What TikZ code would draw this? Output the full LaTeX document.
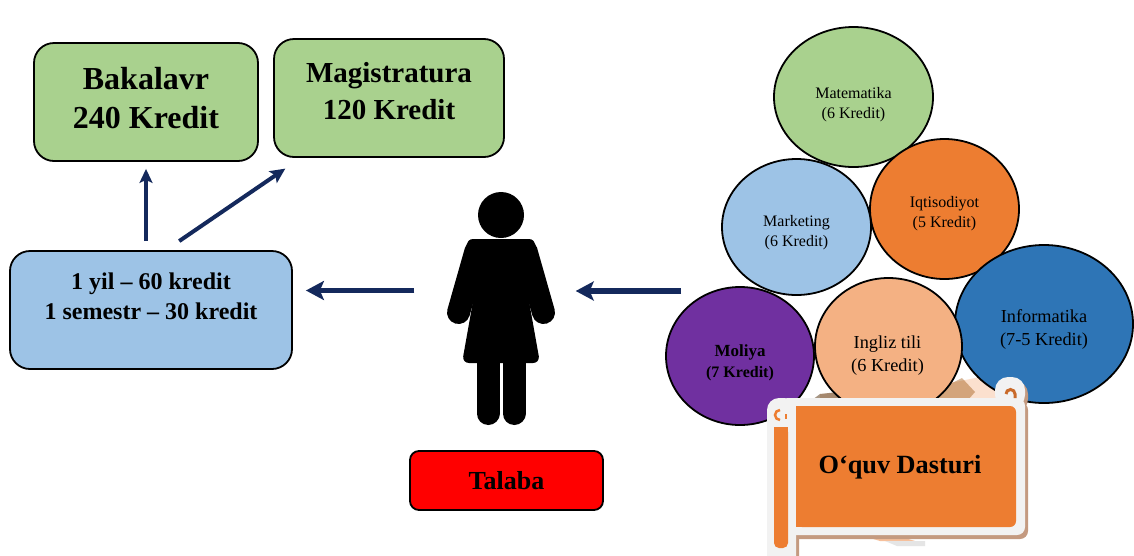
\documentclass[tikz,border=0pt]{standalone}
\usepackage{fontspec}
\setmainfont{Liberation Serif}
\usetikzlibrary{arrows.meta, shapes.geometric}
\definecolor{degreegreen}{HTML}{A9D18E}
\definecolor{termblue}{HTML}{9DC3E6}
\definecolor{flownavy}{HTML}{14295C}
\definecolor{econorange}{HTML}{ED7D31}
\definecolor{itblue}{HTML}{2E75B6}
\definecolor{finpurple}{HTML}{7030A0}
\definecolor{engpeach}{HTML}{F4B183}
\definecolor{scrollframe}{HTML}{F2F2F2}
\definecolor{scrollshadow}{HTML}{C49A80}
\newcommand{\fsize}[2]{\fontsize{#1}{#2}\selectfont}
\tikzset{
  box/.style={draw=black, line width=1.8pt, rounded corners=#1, inner sep=0pt},
  subject/.style={ellipse, draw=black, line width=1.8pt, inner sep=0pt},
  boldtext/.style 2 args={align=center, inner sep=0pt, font=\bfseries\fsize{#1}{#2}},
  plaintext/.style 2 args={align=center, inner sep=0pt, font=\fsize{#1}{#2}},
  flow/.style={draw=flownavy, line width=#1}
}
\begin{document}
\begin{tikzpicture}[x=1pt, y=-1pt]
\useasboundingbox (0,0) rectangle (1134,555);
\fill[white] (0,0) rectangle (1134,555);
\draw[cyan!70, line width=1pt] (35,250) -- (268,250);
\node (bak) [box=20pt, fill=degreegreen, minimum width=224pt, minimum height=118pt] at (146,102) {};
\node (mag) [box=20pt, fill=degreegreen, minimum width=230pt, minimum height=118pt] at (389,98) {};
\node (sem) [box=20pt, fill=termblue, minimum width=282pt, minimum height=118pt] at (151,310) {};
\node (tal) [box=9pt, fill=red, minimum width=193pt, minimum height=59pt] at (506.5,480.5) {};
\node (baktext) [boldtext={32}{39}] at ([yshift=4pt]bak.center) {Bakalavr\\240 Kredit};
\node (magtext) [boldtext={29}{37}] at ([yshift=7pt]mag.center) {Magistratura\\120 Kredit};
\node (semtext) [boldtext={24}{30}] at ([yshift=14pt]sem.center) {1 yil -- 60 kredit\\1 semestr -- 30 kredit};
\node (taltext) [boldtext={26}{30}] at (tal.center) {Talaba};
\node (person) [minimum width=109pt, minimum height=233pt, inner sep=0pt] at (501,308.5) {};
\node (head) [circle, fill=black, minimum size=46pt, inner sep=0pt] at (501,215) {};
\fill[black, rounded corners=7pt] (466,239) -- (536,239) -- (527,290) -- (540,363) -- (462,363) -- (475,290) -- cycle;
\draw[line width=23pt, line cap=round] (476,251) -- (458.5,312.5);
\draw[line width=23pt, line cap=round] (526,251) -- (543.5,312.5);
\draw[line width=23pt, line cap=round] (488,355) -- (488,413.5);
\draw[line width=23pt, line cap=round] (514,355) -- (514,413.5);
\draw[flow=4pt, -{Stealth[length=14pt, width=13pt, inset=3pt]}, shorten <=9pt, shorten >=7pt] (bak.south |- sem.north) -- (bak.south);
\draw[flow=4pt, -{Stealth[length=15pt, width=14pt, inset=3pt]}, shorten <=16pt, shorten >=19pt] ([xshift=15pt]sem.north) -- ([xshift=-88pt]mag.south);
\draw[flow=5.5pt, -{Stealth[length=18pt, width=19pt, inset=4pt]}, shorten <=32pt, shorten >=13pt] ([yshift=18pt]person.west) -- ([yshift=18pt]person.west -| sem.east);
\coordinate (progout) at (681,291);
\draw[flow=5.5pt, -{Stealth[length=18pt, width=19pt, inset=4pt]}, shorten >=20pt] (progout) -- (progout -| person.east);
\fill[engpeach!40] (820,394) -- (955,382) -- (1005,372) -- (1005,402) -- (820,402) -- cycle;
\fill[black!50!brown, opacity=.55] (812,400) -- (820,394) -- (838,392) -- (848,400) -- cycle;
\fill[black!40!orange, opacity=.4] (948,385) -- (962,378) -- (975,392) -- (968,400) -- (935,400) -- cycle;
\fill[econorange!80, opacity=.6] (870,538) -- (905,538) -- (915,541) -- (880,541) -- cycle;
\fill[black!10] (885,541) -- (925,541) -- (925,546) -- (897,546) -- cycle;
\node (mat) [subject, fill=degreegreen, minimum width=159pt, minimum height=140pt] at (853.5,97) {};
\node (iqt) [subject, fill=econorange, minimum width=149pt, minimum height=140pt] at (944.5,209) {};
\node (mar) [subject, fill=termblue, minimum width=149pt, minimum height=136pt] at (796.5,227) {};
\node (inf) [subject, fill=itblue, minimum width=178pt, minimum height=158pt] at (1044,324) {};
\node (mol) [subject, fill=finpurple, minimum width=148pt, minimum height=138pt] at (740,356) {};
\node (ing) [subject, fill=engpeach, minimum width=147pt, minimum height=137pt] at (888.5,346.5) {};
\node (mattext) [plaintext={16}{20}] at ([yshift=-8pt]mat.center) {Matematika\\(6 Kredit)};
\node (iqttext) [plaintext={16}{20}] at ([yshift=-5pt]iqt.center) {Iqtisodiyot\\(5 Kredit)};
\node (martext) [plaintext={16}{20}] at ([yshift=-6pt]mar.center) {Marketing\\(6 Kredit)};
\node (inftext) [plaintext={18.3}{23}] at ([yshift=-5pt]inf.center) {Informatika\\(7-5 Kredit)};
\node (moltext) [boldtext={16}{21}] at ([yshift=-7pt]mol.center) {{\fsize{17}{21}Moliya}\\(7 Kredit)};
\node (ingtext) [plaintext={18.3}{23}] at ([xshift=-1pt, yshift=-9pt]ing.center) {Ingliz tili\\(6 Kredit)};
\foreach \dx/\dy/\col in {3/4/scrollshadow, 0/0/scrollframe}{
  \fill[\col, rounded corners=12pt] (767+\dx,398+\dy) rectangle (796+\dx,570);
  \fill[\col, rounded corners=8pt] (780+\dx,398+\dy) rectangle (1025+\dx,535+\dy);
  \fill[\col, rounded corners=13pt] (995+\dx,377+\dy) rectangle (1025+\dx,408+\dy);
}
\fill[econorange, rounded corners=6pt] (796,406) -- (1016,406) -- (1016,527) -- (796,527) -- cycle;
\fill[econorange] (796,406) rectangle (815,527);
\fill[econorange, rounded corners=5pt] (774,427) -- (788,427) -- (788,548) -- (774,548) -- cycle;
\fill[econorange] (774,427) rectangle (788,437);
\draw[econorange, line width=2.5pt] (780,420) arc (270:90:5pt);
\draw[econorange, line width=1.5pt] (786,414) -- (786,419);
\draw[econorange!85!black, line width=3pt] (1006,394) arc (180:0:4.5pt) -- (1015,398);
\node (dastur) [boldtext={26.3}{30}] at (900,467) {O‘quv Dasturi};
\end{tikzpicture}
\end{document}
